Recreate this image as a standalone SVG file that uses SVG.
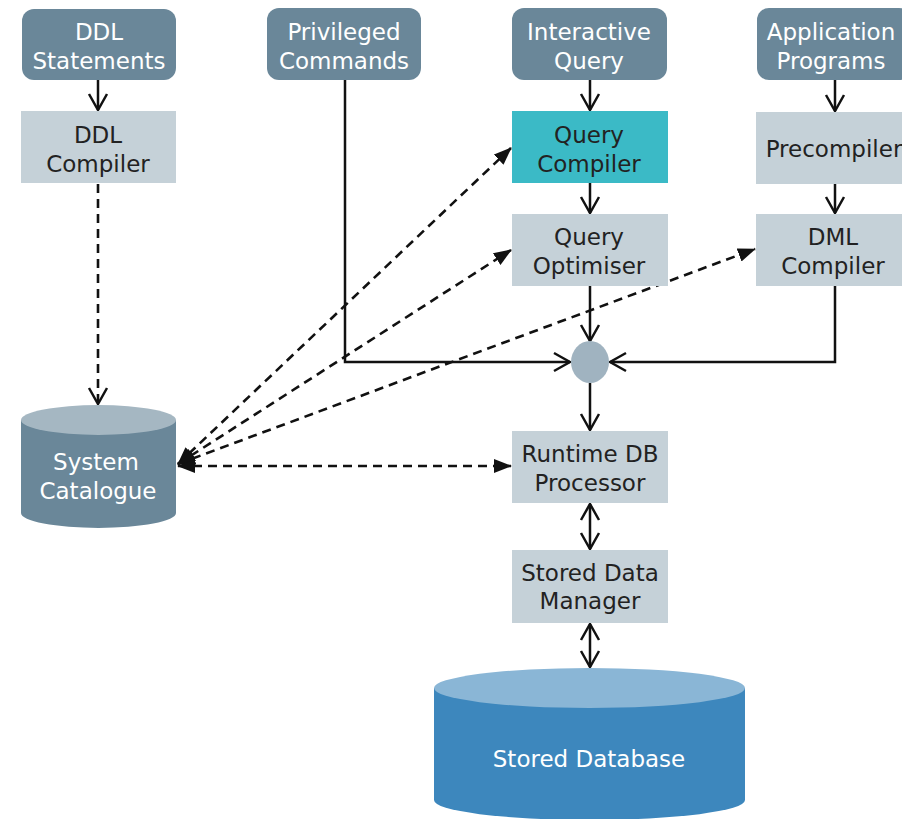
<svg xmlns="http://www.w3.org/2000/svg" width="902" height="819" viewBox="0 0 902 819">
<defs>
<style>
.src{fill:#6a8799}
.proc{fill:#c5d1d8}
.hl{fill:#3bbac6}
.lt{font-family:"DejaVu Sans","Liberation Sans",sans-serif;font-size:23px;fill:#ffffff;text-anchor:middle}
.dk{font-family:"DejaVu Sans","Liberation Sans",sans-serif;font-size:23px;fill:#222222;text-anchor:middle}
.ln{fill:none;stroke:#111111;stroke-width:2.5}
.ds{fill:none;stroke:#111111;stroke-width:2.6;stroke-dasharray:9 6}
</style>
<marker id="open" markerUnits="userSpaceOnUse" viewBox="0 0 20 22" refX="18" refY="11" markerWidth="20" markerHeight="22" orient="auto-start-reverse">
<path d="M2,2 L18,11 L2,20" fill="none" stroke="#111111" stroke-width="2.5"/>
</marker>
<marker id="fill" markerUnits="userSpaceOnUse" viewBox="0 0 18 16" refX="17" refY="8" markerWidth="18" markerHeight="16" orient="auto-start-reverse">
<path d="M0,1 L18,8 L0,15 Z" fill="#111111"/>
</marker>
</defs>

<g id="connectors">
<line class="ln" x1="98" y1="80" x2="98" y2="110" marker-end="url(#open)"/>
<line class="ds" x1="98" y1="184" x2="98" y2="404" marker-end="url(#open)"/>
<polyline class="ln" points="345,80 345,362 570,362" marker-end="url(#open)"/>
<line class="ln" x1="590" y1="80" x2="590" y2="110" marker-end="url(#open)"/>
<line class="ln" x1="590" y1="183" x2="590" y2="213" marker-end="url(#open)"/>
<line class="ln" x1="590" y1="286" x2="590" y2="341" marker-end="url(#open)"/>
<line class="ln" x1="835" y1="80" x2="835" y2="111" marker-end="url(#open)"/>
<line class="ln" x1="835" y1="184" x2="835" y2="213" marker-end="url(#open)"/>
<polyline class="ln" points="835,286 835,362 610,362" marker-end="url(#open)"/>
<line class="ln" x1="590" y1="383" x2="590" y2="430" marker-end="url(#open)"/>
<line class="ln" x1="590" y1="504" x2="590" y2="549" marker-start="url(#open)" marker-end="url(#open)"/>
<line class="ln" x1="590" y1="624" x2="590" y2="667" marker-start="url(#open)" marker-end="url(#open)"/>
<line class="ds" x1="178" y1="464" x2="511" y2="148" marker-start="url(#fill)" marker-end="url(#fill)"/>
<line class="ds" x1="178" y1="464" x2="511" y2="250" marker-start="url(#fill)" marker-end="url(#fill)"/>
<line class="ds" x1="178" y1="464" x2="755" y2="249" marker-start="url(#fill)" marker-end="url(#fill)"/>
<line class="ds" x1="178" y1="466" x2="511" y2="466" marker-start="url(#fill)" marker-end="url(#fill)"/>
</g>

<g id="ddl-statements">
<rect class="src" x="22" y="9" width="154" height="71" rx="12"/>
<text class="lt" x="99" y="40">DDL</text>
<text class="lt" x="99" y="69">Statements</text>
</g>
<g id="privileged-commands">
<rect class="src" x="267" y="8" width="154" height="72" rx="12"/>
<text class="lt" x="344" y="40">Privileged</text>
<text class="lt" x="344" y="69">Commands</text>
</g>
<g id="interactive-query">
<rect class="src" x="512" y="8" width="155" height="72" rx="12"/>
<text class="lt" x="589" y="40">Interactive</text>
<text class="lt" x="589" y="69">Query</text>
</g>
<g id="application-programs">
<rect class="src" x="757" y="8" width="154" height="72" rx="12"/>
<text class="lt" x="831" y="40">Application</text>
<text class="lt" x="831" y="69">Programs</text>
</g>
<g id="ddl-compiler">
<rect class="proc" x="21" y="111" width="155" height="72"/>
<text class="dk" x="98" y="143">DDL</text>
<text class="dk" x="98" y="172">Compiler</text>
</g>
<g id="query-compiler">
<rect class="hl" x="512" y="111" width="156" height="72"/>
<text class="dk" x="589" y="143">Query</text>
<text class="dk" x="589" y="172">Compiler</text>
</g>
<g id="precompiler">
<rect class="proc" x="756" y="112" width="156" height="72"/>
<text class="dk" x="834" y="157">Precompiler</text>
</g>
<g id="query-optimiser">
<rect class="proc" x="512" y="214" width="156" height="72"/>
<text class="dk" x="589" y="245">Query</text>
<text class="dk" x="589" y="274">Optimiser</text>
</g>
<g id="dml-compiler">
<rect class="proc" x="756" y="214" width="156" height="72"/>
<text class="dk" x="833" y="245">DML</text>
<text class="dk" x="833" y="274">Compiler</text>
</g>
<g id="junction">
<ellipse cx="590" cy="362" rx="19" ry="21" fill="#a0b3c0"/>
</g>
<g id="runtime-db-processor">
<rect class="proc" x="512" y="431" width="156" height="72"/>
<text class="dk" x="590" y="462">Runtime DB</text>
<text class="dk" x="590" y="491">Processor</text>
</g>
<g id="stored-data-manager">
<rect class="proc" x="512" y="550" width="156" height="73"/>
<text class="dk" x="590" y="581">Stored Data</text>
<text class="dk" x="590" y="609">Manager</text>
</g>
<g id="system-catalogue">
<path d="M21,420 L21,513 A77.5,15 0 0 0 176,513 L176,420 Z" fill="#6a8799"/>
<ellipse cx="98.5" cy="420" rx="77.5" ry="15" fill="#a5b7c2"/>
<text class="lt" x="96" y="470">System</text>
<text class="lt" x="98" y="499">Catalogue</text>
</g>
<g id="stored-database">
<path d="M434,688 L434,800 A155.5,20 0 0 0 745,800 L745,688 Z" fill="#3d87bd"/>
<ellipse cx="589.5" cy="688" rx="155.5" ry="20" fill="#8ab6d6"/>
<text class="lt" x="589" y="767">Stored Database</text>
</g>
</svg>
